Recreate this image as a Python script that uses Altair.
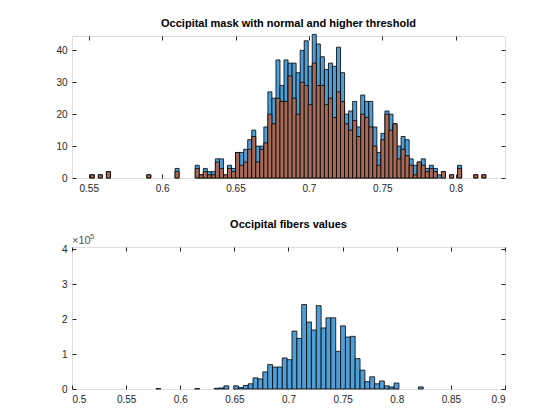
import altair as alt
import pandas as pd

# top panel: bin index k (relative to bin starting at ~0.7023), counts
top_start = 0.7023
top_width = 0.00275
top_k = list(range(-55, 43))
normal_counts = [1, 0, 1, 0, 2, 0, 0, 0, 0, 0, 0, 0, 0, 0, 1, 0, 0, 0, 0, 0, 0,
                 3, 0, 0, 0, 0, 4, 1, 3, 2, 2, 6, 6, 1, 4, 3, 8, 8, 9, 12, 15, 10, 10,
                 16, 27, 25, 37, 29, 37, 36, 36, 33, 40, 43, 35, 45, 42, 38, 34, 36, 35,
                 41, 33, 20, 21, 24, 16, 26, 24, 24, 16, 8, 14, 21, 20, 17, 10, 13, 12,
                 6, 4, 5, 6, 3, 4, 3, 1, 2, 0, 1, 0, 4, 0, 0, 0, 1, 0, 1]
higher_counts = [1, 0, 1, 0, 2, 0, 0, 0, 0, 0, 0, 0, 0, 0, 1, 0, 0, 0, 0, 0, 0,
                 2, 0, 0, 0, 0, 3, 1, 2, 1, 1, 5, 3, 1, 3, 2, 8, 4, 5, 9, 13, 5, 9,
                 11, 20, 17, 25, 24, 24, 32, 25, 20, 30, 29, 23, 36, 29, 29, 23, 25, 19,
                 27, 24, 17, 15, 18, 13, 20, 19, 16, 10, 4, 12, 20, 15, 17, 6, 9, 7,
                 4, 1, 5, 4, 2, 3, 2, 0, 2, 0, 1, 0, 3, 0, 0, 0, 1, 0, 1]

# bottom panel: fibers values (x 1e5)
fib_start = 0.6673
fib_width = 0.00449
fib_k = [-20, -12, -8, -7, -6, -5, -4, -3, -2, -1, 0, 1, 2, 3, 4, 5, 6, 7, 8, 9, 10,
         11, 12, 13, 14, 15, 16, 17, 18, 19, 20, 21, 22, 23, 24, 25, 26, 27, 28, 29, 34]
fib_vals = [0.01, 0.01, 0.02, 0.03, 0.09, 0.0, 0.09, 0.04, 0.1, 0.15, 0.32, 0.29, 0.49,
            0.7, 0.63, 0.63, 0.89, 0.84, 1.66, 1.45, 2.42, 1.92, 1.69, 2.39, 1.75, 2.04,
            2.04, 1.08, 1.81, 1.49, 1.51, 0.87, 0.54, 0.21, 0.35, 0.15, 0.23, 0.09, 0.06,
            0.17, 0.06]

BLUE = "#4f9ed6"
BROWN = "#a66a59"
FONT = "Liberation Sans"
W, H = 433, 142

top = pd.DataFrame({"k": top_k, "normal": normal_counts, "higher": higher_counts})
top["x0"] = top_start + top["k"] * top_width
top["x1"] = top["x0"] + top_width
top = top[(top["normal"] > 0) | (top["higher"] > 0)]
fib = pd.DataFrame({"k": fib_k, "v": fib_vals})
fib["x0"] = fib_start + fib["k"] * fib_width
fib["x1"] = fib["x0"] + fib_width
fib = fib[fib["v"] > 0]


def axis_main(values, fmt):
    return alt.Axis(values=values, format=fmt, grid=False, domain=False, offset=-4,
                    tickSize=4, tickColor="#262626", labelPadding=5, title=None,
                    labelFont=FONT, labelFontSize=10, labelColor="#262626")


def panel(df, xdom, xticks, xfmt, ydom, yticks, layers, title):
    xs = alt.Scale(domain=xdom, nice=False, zero=False)
    ys = alt.Scale(domain=ydom, nice=False)
    charts = []
    for i, (col, color) in enumerate(layers):
        charts.append(alt.Chart(df).transform_filter(f"datum.{col} > 0").mark_rect(
            color=color, stroke="black", strokeWidth=0.8, opacity=1).encode(
            x=alt.X("x0:Q", scale=xs, axis=axis_main(xticks, xfmt) if i == 0 else None),
            x2="x1:Q",
            y=alt.Y(f"{col}:Q", scale=ys, axis=axis_main(yticks, "d") if i == 0 else None),
            y2=alt.datum(0),
        ))
    ticks = alt.Chart(df).mark_point(opacity=0).encode(
        x=alt.X("x0:Q", scale=xs, axis=alt.Axis(
            values=xticks, orient="top", labels=False, domain=False, offset=-4,
            tickSize=4, tickColor="#262626", grid=False, title=None)),
        y=alt.Y(f"{layers[0][0]}:Q", scale=ys, axis=alt.Axis(
            values=yticks, orient="right", labels=False, domain=False, offset=-4,
            tickSize=4, tickColor="#262626", grid=False, title=None)),
    )
    return alt.layer(*charts, ticks).resolve_axis(x="independent", y="independent").properties(
        width=W, height=H,
        title=alt.TitleParams(title, font=FONT, fontSize=11, fontWeight="bold",
                              color="black", offset=3),
    )


top_chart = panel(top, [0.5386, 0.8336], [0.55, 0.6, 0.65, 0.7, 0.75, 0.8], ".2~f",
                  [0, 44.5], [0, 10, 20, 30, 40],
                  [("normal", BLUE), ("higher", BROWN)],
                  "Occipital mask with normal and higher threshold")

exp_base = alt.Chart(pd.DataFrame({"t": ["×10"]})).mark_text(
    align="left", baseline="bottom", font=FONT, fontSize=11, color="#555555").encode(
    x=alt.value(0), y=alt.value(-1), text="t:N")
exp_pow = alt.Chart(pd.DataFrame({"t": ["5"]})).mark_text(
    align="left", baseline="bottom", font=FONT, fontSize=8, color="#555555").encode(
    x=alt.value(18), y=alt.value(-6), text="t:N")

bottom_chart = alt.layer(
    panel(fib, [0.5, 0.9], [0.5, 0.55, 0.6, 0.65, 0.7, 0.75, 0.8, 0.85, 0.9], ".2~f",
          [0, 4.07], [0, 1, 2, 3, 4], [("v", BLUE)], "Occipital fibers values"),
    exp_base, exp_pow,
)

chart = alt.vconcat(top_chart, bottom_chart, spacing=24).properties(
    padding={"left": 47, "top": 9, "right": 10, "bottom": 5}
).configure_view(stroke="#262626", strokeWidth=1).configure(background="white")

chart.save("out.html", embed_options={"renderer": "svg", "actions": False})
